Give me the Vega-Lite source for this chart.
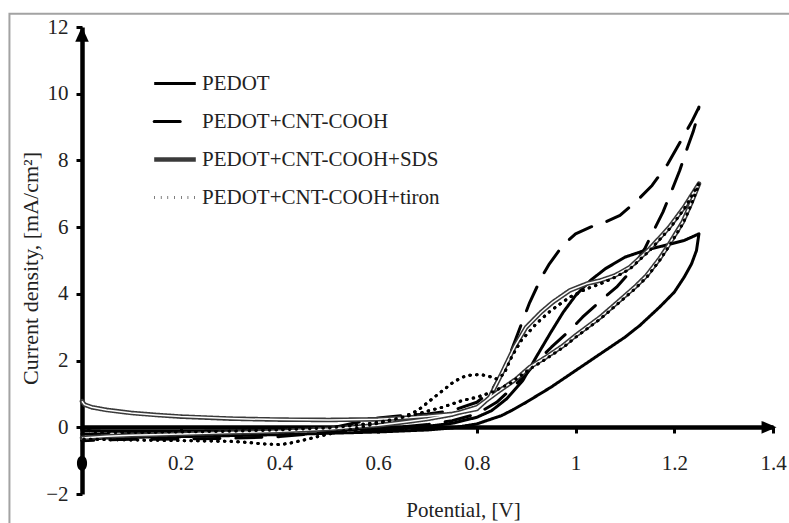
{
  "$schema": "https://vega.github.io/schema/vega-lite/v6.json",
  "width": 691,
  "height": 467,
  "autosize": {"type": "none"},
  "padding": {"left": 82, "top": 27, "right": 16, "bottom": 29},
  "background": "white",
  "config": {"view": {"stroke": null}, "font": "Liberation Serif, serif"},
  "datasets": {
    "cv": [
      {"s": "PEDOT", "v": 0, "j": -0.1}, {"s": "PEDOT", "v": 0.05, "j": -0.12}, {"s": "PEDOT", "v": 0.1, "j": -0.12}, {"s": "PEDOT", "v": 0.2, "j": -0.12}, {"s": "PEDOT", "v": 0.3, "j": -0.11}, {"s": "PEDOT", "v": 0.4, "j": -0.1}, {"s": "PEDOT", "v": 0.5, "j": -0.08}, {"s": "PEDOT", "v": 0.6, "j": -0.05}, {"s": "PEDOT", "v": 0.65, "j": -0.02}, {"s": "PEDOT", "v": 0.7, "j": 0.03}, {"s": "PEDOT", "v": 0.75, "j": 0.12}, {"s": "PEDOT", "v": 0.8, "j": 0.3}, {"s": "PEDOT", "v": 0.83, "j": 0.5}, {"s": "PEDOT", "v": 0.86, "j": 0.85}, {"s": "PEDOT", "v": 0.893, "j": 1.4}, {"s": "PEDOT", "v": 0.92, "j": 2.1}, {"s": "PEDOT", "v": 0.95, "j": 2.85}, {"s": "PEDOT", "v": 0.975, "j": 3.45}, {"s": "PEDOT", "v": 1.0, "j": 3.95}, {"s": "PEDOT", "v": 1.03, "j": 4.4}, {"s": "PEDOT", "v": 1.06, "j": 4.75}, {"s": "PEDOT", "v": 1.1, "j": 5.1}, {"s": "PEDOT", "v": 1.14, "j": 5.3}, {"s": "PEDOT", "v": 1.18, "j": 5.45}, {"s": "PEDOT", "v": 1.22, "j": 5.6}, {"s": "PEDOT", "v": 1.25, "j": 5.8},
      {"s": "PEDOT", "v": 1.245, "j": 5.3}, {"s": "PEDOT", "v": 1.235, "j": 4.9}, {"s": "PEDOT", "v": 1.22, "j": 4.5}, {"s": "PEDOT", "v": 1.2, "j": 4.05}, {"s": "PEDOT", "v": 1.17, "j": 3.6}, {"s": "PEDOT", "v": 1.13, "j": 3.05}, {"s": "PEDOT", "v": 1.1, "j": 2.7}, {"s": "PEDOT", "v": 1.06, "j": 2.3}, {"s": "PEDOT", "v": 1.0, "j": 1.7}, {"s": "PEDOT", "v": 0.95, "j": 1.2}, {"s": "PEDOT", "v": 0.9, "j": 0.75}, {"s": "PEDOT", "v": 0.87, "j": 0.5}, {"s": "PEDOT", "v": 0.85, "j": 0.35}, {"s": "PEDOT", "v": 0.8, "j": 0.1}, {"s": "PEDOT", "v": 0.75, "j": -0.02}, {"s": "PEDOT", "v": 0.7, "j": -0.08}, {"s": "PEDOT", "v": 0.6, "j": -0.14}, {"s": "PEDOT", "v": 0.5, "j": -0.18}, {"s": "PEDOT", "v": 0.4, "j": -0.22}, {"s": "PEDOT", "v": 0.3, "j": -0.25}, {"s": "PEDOT", "v": 0.2, "j": -0.28}, {"s": "PEDOT", "v": 0.1, "j": -0.3}, {"s": "PEDOT", "v": 0.05, "j": -0.32}, {"s": "PEDOT", "v": 0.01, "j": -0.36}, {"s": "PEDOT", "v": 0, "j": -0.4},

      {"s": "PEDOT+CNT-COOH", "v": 0, "j": -0.2}, {"s": "PEDOT+CNT-COOH", "v": 0.05, "j": -0.22}, {"s": "PEDOT+CNT-COOH", "v": 0.1, "j": -0.2}, {"s": "PEDOT+CNT-COOH", "v": 0.2, "j": -0.18}, {"s": "PEDOT+CNT-COOH", "v": 0.3, "j": -0.15}, {"s": "PEDOT+CNT-COOH", "v": 0.4, "j": -0.12}, {"s": "PEDOT+CNT-COOH", "v": 0.5, "j": -0.04}, {"s": "PEDOT+CNT-COOH", "v": 0.55, "j": 0.12}, {"s": "PEDOT+CNT-COOH", "v": 0.6, "j": 0.28}, {"s": "PEDOT+CNT-COOH", "v": 0.65, "j": 0.35}, {"s": "PEDOT+CNT-COOH", "v": 0.7, "j": 0.4}, {"s": "PEDOT+CNT-COOH", "v": 0.75, "j": 0.5}, {"s": "PEDOT+CNT-COOH", "v": 0.8, "j": 0.75}, {"s": "PEDOT+CNT-COOH", "v": 0.83, "j": 1.1}, {"s": "PEDOT+CNT-COOH", "v": 0.85, "j": 1.6}, {"s": "PEDOT+CNT-COOH", "v": 0.87, "j": 2.3}, {"s": "PEDOT+CNT-COOH", "v": 0.893, "j": 3.2}, {"s": "PEDOT+CNT-COOH", "v": 0.907, "j": 3.74}, {"s": "PEDOT+CNT-COOH", "v": 0.931, "j": 4.5}, {"s": "PEDOT+CNT-COOH", "v": 0.947, "j": 4.9}, {"s": "PEDOT+CNT-COOH", "v": 0.974, "j": 5.45}, {"s": "PEDOT+CNT-COOH", "v": 1.0, "j": 5.8}, {"s": "PEDOT+CNT-COOH", "v": 1.03, "j": 6.0}, {"s": "PEDOT+CNT-COOH", "v": 1.06, "j": 6.15}, {"s": "PEDOT+CNT-COOH", "v": 1.09, "j": 6.35}, {"s": "PEDOT+CNT-COOH", "v": 1.125, "j": 6.8}, {"s": "PEDOT+CNT-COOH", "v": 1.155, "j": 7.25}, {"s": "PEDOT+CNT-COOH", "v": 1.187, "j": 7.9}, {"s": "PEDOT+CNT-COOH", "v": 1.21, "j": 8.5}, {"s": "PEDOT+CNT-COOH", "v": 1.235, "j": 9.15}, {"s": "PEDOT+CNT-COOH", "v": 1.25, "j": 9.6},
      {"s": "PEDOT+CNT-COOH", "v": 1.245, "j": 9.2}, {"s": "PEDOT+CNT-COOH", "v": 1.238, "j": 8.85}, {"s": "PEDOT+CNT-COOH", "v": 1.227, "j": 8.4}, {"s": "PEDOT+CNT-COOH", "v": 1.211, "j": 7.7}, {"s": "PEDOT+CNT-COOH", "v": 1.195, "j": 7.1}, {"s": "PEDOT+CNT-COOH", "v": 1.177, "j": 6.45}, {"s": "PEDOT+CNT-COOH", "v": 1.16, "j": 5.95}, {"s": "PEDOT+CNT-COOH", "v": 1.14, "j": 5.35}, {"s": "PEDOT+CNT-COOH", "v": 1.11, "j": 4.65}, {"s": "PEDOT+CNT-COOH", "v": 1.083, "j": 4.2}, {"s": "PEDOT+CNT-COOH", "v": 1.055, "j": 3.85}, {"s": "PEDOT+CNT-COOH", "v": 1.014, "j": 3.3}, {"s": "PEDOT+CNT-COOH", "v": 0.988, "j": 2.9}, {"s": "PEDOT+CNT-COOH", "v": 0.951, "j": 2.4}, {"s": "PEDOT+CNT-COOH", "v": 0.92, "j": 1.95}, {"s": "PEDOT+CNT-COOH", "v": 0.9, "j": 1.6}, {"s": "PEDOT+CNT-COOH", "v": 0.87, "j": 1.15}, {"s": "PEDOT+CNT-COOH", "v": 0.84, "j": 0.75}, {"s": "PEDOT+CNT-COOH", "v": 0.8, "j": 0.4}, {"s": "PEDOT+CNT-COOH", "v": 0.75, "j": 0.2}, {"s": "PEDOT+CNT-COOH", "v": 0.7, "j": 0.08}, {"s": "PEDOT+CNT-COOH", "v": 0.6, "j": -0.05}, {"s": "PEDOT+CNT-COOH", "v": 0.5, "j": -0.15}, {"s": "PEDOT+CNT-COOH", "v": 0.4, "j": -0.28}, {"s": "PEDOT+CNT-COOH", "v": 0.3, "j": -0.33}, {"s": "PEDOT+CNT-COOH", "v": 0.2, "j": -0.35}, {"s": "PEDOT+CNT-COOH", "v": 0.1, "j": -0.36}, {"s": "PEDOT+CNT-COOH", "v": 0.05, "j": -0.38}, {"s": "PEDOT+CNT-COOH", "v": 0, "j": -0.4},

      {"s": "PEDOT+CNT-COOH+SDS", "v": 0, "j": 0.78}, {"s": "PEDOT+CNT-COOH+SDS", "v": 0.005, "j": 0.68}, {"s": "PEDOT+CNT-COOH+SDS", "v": 0.02, "j": 0.6}, {"s": "PEDOT+CNT-COOH+SDS", "v": 0.05, "j": 0.52}, {"s": "PEDOT+CNT-COOH+SDS", "v": 0.1, "j": 0.43}, {"s": "PEDOT+CNT-COOH+SDS", "v": 0.15, "j": 0.37}, {"s": "PEDOT+CNT-COOH+SDS", "v": 0.2, "j": 0.32}, {"s": "PEDOT+CNT-COOH+SDS", "v": 0.3, "j": 0.26}, {"s": "PEDOT+CNT-COOH+SDS", "v": 0.4, "j": 0.23}, {"s": "PEDOT+CNT-COOH+SDS", "v": 0.5, "j": 0.22}, {"s": "PEDOT+CNT-COOH+SDS", "v": 0.6, "j": 0.24}, {"s": "PEDOT+CNT-COOH+SDS", "v": 0.65, "j": 0.28}, {"s": "PEDOT+CNT-COOH+SDS", "v": 0.7, "j": 0.33}, {"s": "PEDOT+CNT-COOH+SDS", "v": 0.75, "j": 0.4}, {"s": "PEDOT+CNT-COOH+SDS", "v": 0.8, "j": 0.55}, {"s": "PEDOT+CNT-COOH+SDS", "v": 0.826, "j": 0.9}, {"s": "PEDOT+CNT-COOH+SDS", "v": 0.85, "j": 1.6}, {"s": "PEDOT+CNT-COOH+SDS", "v": 0.876, "j": 2.4}, {"s": "PEDOT+CNT-COOH+SDS", "v": 0.9, "j": 3.0}, {"s": "PEDOT+CNT-COOH+SDS", "v": 0.93, "j": 3.45}, {"s": "PEDOT+CNT-COOH+SDS", "v": 0.954, "j": 3.75}, {"s": "PEDOT+CNT-COOH+SDS", "v": 0.988, "j": 4.1}, {"s": "PEDOT+CNT-COOH+SDS", "v": 1.022, "j": 4.3}, {"s": "PEDOT+CNT-COOH+SDS", "v": 1.05, "j": 4.4}, {"s": "PEDOT+CNT-COOH+SDS", "v": 1.08, "j": 4.55}, {"s": "PEDOT+CNT-COOH+SDS", "v": 1.11, "j": 4.8}, {"s": "PEDOT+CNT-COOH+SDS", "v": 1.15, "j": 5.35}, {"s": "PEDOT+CNT-COOH+SDS", "v": 1.19, "j": 6.0}, {"s": "PEDOT+CNT-COOH+SDS", "v": 1.22, "j": 6.6}, {"s": "PEDOT+CNT-COOH+SDS", "v": 1.25, "j": 7.3},
      {"s": "PEDOT+CNT-COOH+SDS", "v": 1.235, "j": 6.75}, {"s": "PEDOT+CNT-COOH+SDS", "v": 1.217, "j": 6.15}, {"s": "PEDOT+CNT-COOH+SDS", "v": 1.19, "j": 5.5}, {"s": "PEDOT+CNT-COOH+SDS", "v": 1.17, "j": 5.05}, {"s": "PEDOT+CNT-COOH+SDS", "v": 1.144, "j": 4.55}, {"s": "PEDOT+CNT-COOH+SDS", "v": 1.12, "j": 4.2}, {"s": "PEDOT+CNT-COOH+SDS", "v": 1.089, "j": 3.8}, {"s": "PEDOT+CNT-COOH+SDS", "v": 1.05, "j": 3.3}, {"s": "PEDOT+CNT-COOH+SDS", "v": 1.0, "j": 2.75}, {"s": "PEDOT+CNT-COOH+SDS", "v": 0.975, "j": 2.45}, {"s": "PEDOT+CNT-COOH+SDS", "v": 0.94, "j": 2.1}, {"s": "PEDOT+CNT-COOH+SDS", "v": 0.907, "j": 1.8}, {"s": "PEDOT+CNT-COOH+SDS", "v": 0.88, "j": 1.45}, {"s": "PEDOT+CNT-COOH+SDS", "v": 0.846, "j": 1.1}, {"s": "PEDOT+CNT-COOH+SDS", "v": 0.8, "j": 0.6}, {"s": "PEDOT+CNT-COOH+SDS", "v": 0.75, "j": 0.38}, {"s": "PEDOT+CNT-COOH+SDS", "v": 0.7, "j": 0.25}, {"s": "PEDOT+CNT-COOH+SDS", "v": 0.65, "j": 0.15}, {"s": "PEDOT+CNT-COOH+SDS", "v": 0.6, "j": 0.06}, {"s": "PEDOT+CNT-COOH+SDS", "v": 0.5, "j": -0.05}, {"s": "PEDOT+CNT-COOH+SDS", "v": 0.4, "j": -0.12}, {"s": "PEDOT+CNT-COOH+SDS", "v": 0.3, "j": -0.16}, {"s": "PEDOT+CNT-COOH+SDS", "v": 0.2, "j": -0.2}, {"s": "PEDOT+CNT-COOH+SDS", "v": 0.1, "j": -0.24}, {"s": "PEDOT+CNT-COOH+SDS", "v": 0.05, "j": -0.27}, {"s": "PEDOT+CNT-COOH+SDS", "v": 0, "j": -0.32},

      {"s": "PEDOT+CNT-COOH+tiron", "v": 0, "j": -0.05}, {"s": "PEDOT+CNT-COOH+tiron", "v": 0.02, "j": -0.12}, {"s": "PEDOT+CNT-COOH+tiron", "v": 0.05, "j": -0.15}, {"s": "PEDOT+CNT-COOH+tiron", "v": 0.1, "j": -0.15}, {"s": "PEDOT+CNT-COOH+tiron", "v": 0.2, "j": -0.14}, {"s": "PEDOT+CNT-COOH+tiron", "v": 0.3, "j": -0.12}, {"s": "PEDOT+CNT-COOH+tiron", "v": 0.4, "j": -0.08}, {"s": "PEDOT+CNT-COOH+tiron", "v": 0.5, "j": -0.02}, {"s": "PEDOT+CNT-COOH+tiron", "v": 0.55, "j": 0.05}, {"s": "PEDOT+CNT-COOH+tiron", "v": 0.6, "j": 0.15}, {"s": "PEDOT+CNT-COOH+tiron", "v": 0.65, "j": 0.3}, {"s": "PEDOT+CNT-COOH+tiron", "v": 0.68, "j": 0.5}, {"s": "PEDOT+CNT-COOH+tiron", "v": 0.711, "j": 0.87}, {"s": "PEDOT+CNT-COOH+tiron", "v": 0.735, "j": 1.15}, {"s": "PEDOT+CNT-COOH+tiron", "v": 0.752, "j": 1.35}, {"s": "PEDOT+CNT-COOH+tiron", "v": 0.77, "j": 1.5}, {"s": "PEDOT+CNT-COOH+tiron", "v": 0.786, "j": 1.56}, {"s": "PEDOT+CNT-COOH+tiron", "v": 0.805, "j": 1.58}, {"s": "PEDOT+CNT-COOH+tiron", "v": 0.82, "j": 1.55}, {"s": "PEDOT+CNT-COOH+tiron", "v": 0.84, "j": 1.45}, {"s": "PEDOT+CNT-COOH+tiron", "v": 0.855, "j": 1.6}, {"s": "PEDOT+CNT-COOH+tiron", "v": 0.87, "j": 2.1}, {"s": "PEDOT+CNT-COOH+tiron", "v": 0.89, "j": 2.6}, {"s": "PEDOT+CNT-COOH+tiron", "v": 0.92, "j": 3.1}, {"s": "PEDOT+CNT-COOH+tiron", "v": 0.95, "j": 3.5}, {"s": "PEDOT+CNT-COOH+tiron", "v": 0.988, "j": 3.9}, {"s": "PEDOT+CNT-COOH+tiron", "v": 1.022, "j": 4.15}, {"s": "PEDOT+CNT-COOH+tiron", "v": 1.05, "j": 4.3}, {"s": "PEDOT+CNT-COOH+tiron", "v": 1.08, "j": 4.5}, {"s": "PEDOT+CNT-COOH+tiron", "v": 1.11, "j": 4.75}, {"s": "PEDOT+CNT-COOH+tiron", "v": 1.15, "j": 5.3}, {"s": "PEDOT+CNT-COOH+tiron", "v": 1.19, "j": 5.95}, {"s": "PEDOT+CNT-COOH+tiron", "v": 1.22, "j": 6.55}, {"s": "PEDOT+CNT-COOH+tiron", "v": 1.25, "j": 7.3},
      {"s": "PEDOT+CNT-COOH+tiron", "v": 1.235, "j": 6.7}, {"s": "PEDOT+CNT-COOH+tiron", "v": 1.217, "j": 6.1}, {"s": "PEDOT+CNT-COOH+tiron", "v": 1.19, "j": 5.45}, {"s": "PEDOT+CNT-COOH+tiron", "v": 1.17, "j": 5.0}, {"s": "PEDOT+CNT-COOH+tiron", "v": 1.144, "j": 4.5}, {"s": "PEDOT+CNT-COOH+tiron", "v": 1.12, "j": 4.15}, {"s": "PEDOT+CNT-COOH+tiron", "v": 1.089, "j": 3.75}, {"s": "PEDOT+CNT-COOH+tiron", "v": 1.05, "j": 3.25}, {"s": "PEDOT+CNT-COOH+tiron", "v": 1.0, "j": 2.7}, {"s": "PEDOT+CNT-COOH+tiron", "v": 0.975, "j": 2.4}, {"s": "PEDOT+CNT-COOH+tiron", "v": 0.94, "j": 2.05}, {"s": "PEDOT+CNT-COOH+tiron", "v": 0.907, "j": 1.75}, {"s": "PEDOT+CNT-COOH+tiron", "v": 0.866, "j": 1.3}, {"s": "PEDOT+CNT-COOH+tiron", "v": 0.83, "j": 1.05}, {"s": "PEDOT+CNT-COOH+tiron", "v": 0.8, "j": 0.9}, {"s": "PEDOT+CNT-COOH+tiron", "v": 0.77, "j": 0.8}, {"s": "PEDOT+CNT-COOH+tiron", "v": 0.73, "j": 0.6}, {"s": "PEDOT+CNT-COOH+tiron", "v": 0.684, "j": 0.42}, {"s": "PEDOT+CNT-COOH+tiron", "v": 0.65, "j": 0.3}, {"s": "PEDOT+CNT-COOH+tiron", "v": 0.6, "j": 0.12}, {"s": "PEDOT+CNT-COOH+tiron", "v": 0.55, "j": -0.05}, {"s": "PEDOT+CNT-COOH+tiron", "v": 0.5, "j": -0.2}, {"s": "PEDOT+CNT-COOH+tiron", "v": 0.45, "j": -0.38}, {"s": "PEDOT+CNT-COOH+tiron", "v": 0.42, "j": -0.48}, {"s": "PEDOT+CNT-COOH+tiron", "v": 0.4, "j": -0.52}, {"s": "PEDOT+CNT-COOH+tiron", "v": 0.37, "j": -0.5}, {"s": "PEDOT+CNT-COOH+tiron", "v": 0.33, "j": -0.45}, {"s": "PEDOT+CNT-COOH+tiron", "v": 0.3, "j": -0.42}, {"s": "PEDOT+CNT-COOH+tiron", "v": 0.2, "j": -0.4}, {"s": "PEDOT+CNT-COOH+tiron", "v": 0.1, "j": -0.38}, {"s": "PEDOT+CNT-COOH+tiron", "v": 0.05, "j": -0.37}, {"s": "PEDOT+CNT-COOH+tiron", "v": 0, "j": -0.35}
    ]
  },
  "encoding": {
    "x": {
      "field": "v",
      "type": "quantitative",
      "scale": {"domain": [0, 1.4], "nice": false, "zero": false},
      "axis": {
        "title": "Potential, [V]",
        "values": [0, 0.2, 0.4, 0.6, 0.8, 1, 1.2, 1.4],
        "format": "~g",
        "labelExpr": "datum.value == 0 ? '' : datum.label",
        "offset": -67,
        "grid": false,
        "domainColor": "black",
        "domainWidth": 4.5,
        "tickColor": "black",
        "tickWidth": 3,
        "tickSize": 6,
        "labelFont": "Liberation Serif, serif",
        "labelFontSize": 21,
        "labelColor": "#222222",
        "labelPadding": 19,
        "labelFlush": false,
        "labelOverlap": false,
        "titleFont": "Liberation Serif, serif",
        "titleFontSize": 21,
        "titleFontWeight": "normal",
        "titleColor": "#222222",
        "titleX": 381,
        "titleY": 83,
        "titleAlign": "center",
        "titleBaseline": "middle"
      }
    },
    "y": {
      "field": "j",
      "type": "quantitative",
      "scale": {"domain": [-2, 12], "nice": false, "zero": false},
      "axis": {
        "title": "Current density, [mA/cm²]",
        "values": [-2, 0, 2, 4, 6, 8, 10, 12],
        "grid": false,
        "domainColor": "black",
        "domainWidth": 4.5,
        "tickColor": "black",
        "tickWidth": 3,
        "tickSize": 6,
        "labelFont": "Liberation Serif, serif",
        "labelFontSize": 21,
        "labelColor": "#222222",
        "labelPadding": 8,
        "labelOverlap": false,
        "titleFont": "Liberation Serif, serif",
        "titleFontSize": 22,
        "titleFontWeight": "normal",
        "titleColor": "#222222",
        "titleX": -52,
        "titleY": 241,
        "titleAngle": -90,
        "titleAlign": "center",
        "titleBaseline": "middle"
      }
    }
  },
  "layer": [
    {
      "data": {"values": [{"v": -0.147, "j": 12.4, "v2": 1.46, "j2": -3.2}]},
      "mark": {"type": "rect", "filled": false, "stroke": "#a3a3a3", "strokeWidth": 2},
      "encoding": {"x2": {"field": "v2"}, "y2": {"field": "j2"}}
    },
    {
      "data": {"name": "cv"},
      "mark": {"type": "line", "strokeCap": "round", "strokeJoin": "round"},
      "encoding": {
        "order": {"value": null},
        "color": {
          "field": "s",
          "type": "nominal",
          "scale": {
            "domain": ["PEDOT", "PEDOT+CNT-COOH", "PEDOT+CNT-COOH+SDS", "PEDOT+CNT-COOH+tiron"],
            "range": ["black", "black", "#3a3a3a", "black"]
          },
          "legend": {
            "title": null,
            "orient": "none",
            "legendX": 82.5,
            "legendY": 46,
            "padding": 0,
            "symbolType": "M-1.6,0L1.6,0",
            "symbolSize": 676,
            "rowPadding": 16,
            "labelOffset": 16.5,
            "labelFont": "Liberation Serif, serif",
            "labelFontSize": 21,
            "labelColor": "#222222",
            "labelLimit": 400,
            "encode": {
              "symbols": {
                "update": {
                  "stroke": {"signal": "datum.value === 'PEDOT+CNT-COOH+SDS' ? '#8a8a8a' : 'black'"},
                  "strokeWidth": {"signal": "datum.value === 'PEDOT+CNT-COOH+SDS' ? 4.5 : 3"},
                  "strokeDash": {"signal": "datum.value === 'PEDOT+CNT-COOH' ? [24, 12] : datum.value === 'PEDOT+CNT-COOH+tiron' ? [2.5, 3] : [1, 0]"},
                  "strokeCap": {"signal": "datum.value === 'PEDOT+CNT-COOH' ? 'round' : 'butt'"}
                }
              }
            }
          }
        },
        "strokeDash": {
          "field": "s",
          "type": "nominal",
          "scale": {
            "domain": ["PEDOT", "PEDOT+CNT-COOH", "PEDOT+CNT-COOH+SDS", "PEDOT+CNT-COOH+tiron"],
            "range": [[1, 0], [26, 16], [1, 0], [0.5, 6.2]]
          },
          "legend": null
        },
        "strokeWidth": {
          "condition": {"test": "datum.s === 'PEDOT+CNT-COOH+SDS'", "value": 4.6},
          "value": 3
        }
      }
    },
    {
      "data": {"name": "cv"},
      "transform": [{"filter": "datum.s === 'PEDOT+CNT-COOH+SDS'"}],
      "mark": {"type": "line", "stroke": "white", "strokeWidth": 1.5, "strokeJoin": "round"},
      "encoding": {"order": {"value": null}}
    },
    {
      "data": {"name": "cv"},
      "transform": [{"filter": "datum.s === 'PEDOT+CNT-COOH+tiron'"}],
      "mark": {"type": "line", "stroke": "black", "strokeWidth": 3, "strokeDash": [0.5, 6.2], "strokeCap": "round"},
      "encoding": {"order": {"value": null}}
    },
    {
      "data": {"values": [{"v": 0, "j": 11.78}]},
      "mark": {"type": "point", "shape": "M0,-1L0.9,1L-0.9,1Z", "size": 225, "filled": true, "color": "black", "opacity": 1}
    },
    {
      "data": {"values": [{"v": 1.392, "j": 0}]},
      "mark": {"type": "point", "shape": "M1,0L-1,0.85L-1,-0.85Z", "size": 225, "filled": true, "color": "black", "opacity": 1}
    },
    {
      "data": {"values": [{"v": 0, "j": -1.08}]},
      "mark": {"type": "point", "shape": "M0,-1C0.9,-1 0.9,1 0,1C-0.9,1 -0.9,-1 0,-1Z", "size": 225, "filled": true, "color": "black", "opacity": 1}
    }
  ]
}
